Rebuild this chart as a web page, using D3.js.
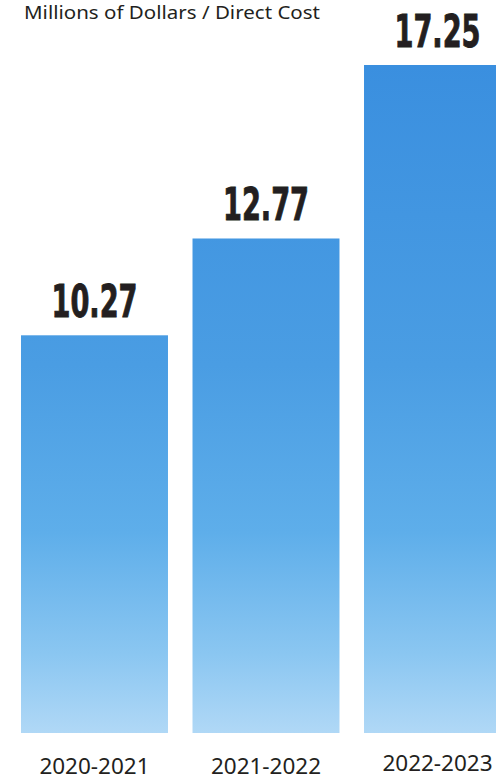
<!DOCTYPE html>
<html>
<head>
<meta charset="utf-8">
<script src="https://cdn.jsdelivr.net/npm/d3@7"></script>
<style>
html,body{margin:0;padding:0;background:#fff;overflow:hidden;}
svg{display:block;}
</style>
</head>
<body>
<svg id="chart" width="496" height="780"></svg>
<script>
const categories = ["2020-2021", "2021-2022", "2022-2023"];
const values = [10.27, 12.77, 17.25];
const valueLabels = ["10.27", "12.77", "17.25"];
const title = "Millions of Dollars / Direct Cost";

const W = 496, H = 780;
const svg = d3.select("#chart");

const x = d3.scaleBand().domain(categories).range([21, 511]).paddingInner(0.143).paddingOuter(0);
const y = d3.scaleLinear().domain([0, 17.25]).range([733, 65]);

const defs = svg.append("defs");
const grad = defs.append("linearGradient")
  .attr("id", "sky").attr("gradientUnits", "userSpaceOnUse")
  .attr("x1", 0).attr("x2", 0).attr("y1", 64).attr("y2", 733);
[[0, "#3a8fdf"], [0.45, "#4a9de3"], [0.7, "#5eaeea"], [0.88, "#8ac6f1"], [1, "#b0d8f6"]]
  .forEach(([o, c]) => grad.append("stop").attr("offset", o).attr("stop-color", c));

svg.selectAll("rect.bar").data(categories).join("rect")
  .attr("class", "bar")
  .attr("x", d => x(d))
  .attr("width", x.bandwidth())
  .attr("y", (d, i) => y(values[i]))
  .attr("height", (d, i) => y(0) - y(values[i]))
  .attr("fill", "url(#sky)");

svg.selectAll("text.val").data(categories).join("text")
  .attr("class", "val")
  .attr("x", d => x(d) + x.bandwidth() / 2)
  .attr("y", (d, i) => y(values[i]) - 18)
  .attr("text-anchor", "middle")
  .attr("font-family", "'Liberation Sans Narrow', 'DejaVu Sans Condensed', sans-serif")
  .attr("font-weight", "bold")
  .attr("font-size", 45)
  .attr("fill", "#231f20")
  .attr("stroke", "#231f20")
  .attr("stroke-width", 0.9)
  .attr("textLength", 86)
  .attr("lengthAdjust", "spacingAndGlyphs")
  .text((d, i) => valueLabels[i]);

svg.selectAll("text.cat").data(categories).join("text")
  .attr("class", "cat")
  .attr("x", d => x(d) + x.bandwidth() / 2)
  .attr("y", (d, i) => i === 2 ? 771 : 774)
  .attr("text-anchor", "middle")
  .attr("font-family", "'Noto Sans', sans-serif")
  .attr("font-size", 22.5)
  .attr("fill", "#231f20")
  .text(d => d);

svg.append("text")
  .attr("x", 24).attr("y", 18.5)
  .attr("font-family", "'Noto Sans', sans-serif")
  .attr("font-size", 18.5)
  .attr("fill", "#231f20")
  .attr("textLength", 296)
  .attr("lengthAdjust", "spacingAndGlyphs")
  .text(title);
</script>
</body>
</html>
